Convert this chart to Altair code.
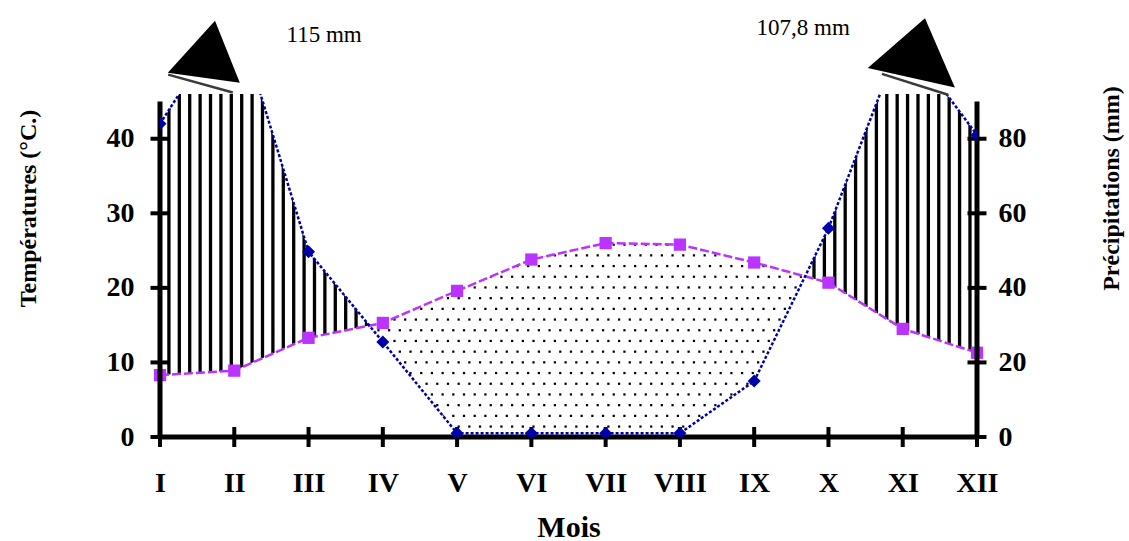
import json

import altair as alt
import numpy as np
import pandas as pd

# Monthly climate normals (Gaussen ombrothermic diagram, P = 2T)
months = ["I", "II", "III", "IV", "V", "VI", "VII", "VIII", "IX", "X", "XI", "XII"]
month_num = [1, 2, 3, 4, 5, 6, 7, 8, 9, 10, 11, 12]
temperature = [8.3, 8.9, 13.3, 15.3, 19.6, 23.8, 26.0, 25.8, 23.4, 20.7, 14.5, 11.3]
precipitation = [84.0, 115.0, 49.7, 25.5, 1.0, 1.0, 1.0, 1.0, 15.0, 56.0, 107.8, 81.0]

# off-scale monthly totals
peak_text = ["115 mm", "107,8 mm"]

temp_ticks = [0, 10, 20, 30, 40]
precip_ticks = [0, 20, 40, 60, 80]

# ---- layout / style --------------------------------------------------------
W, H = 817, 343
T_MAX = 46                     # top of the temperature scale (precip = 2x)
AXIS_TOP = 45
MAGENTA = "#BB33FF"
BLUE = "#0000AA"
SERIF = "Liberation Serif"

# annotation placement (month units / degC units)
peak_pos = pd.DataFrame({"x": [3.21, 9.66], "y": [53.0, 53.9], "text": peak_text})
arrow_heads = pd.DataFrame({
    "x": [1.59, 11.11],
    "y": [51.8, 51.6],
    "shape": ["M0.31,-0.83L-1,0.61L1,0.89Z", "M0.32,-0.77L-0.98,0.36L1,0.8Z"],
    "size": [5184, 7744],
})
arrow_bases = pd.DataFrame({
    "x": [1.11, 10.72], "x2": [1.98, 11.61],
    "y": [48.6, 48.7], "y2": [46.2, 45.9],
})

# ---- humid / dry regions between T and P/2 ----------------------------------
half_p = [p / 2 for p in precipitation]
rx, lo, hi, crossings = [], [], [], []
for i in range(12):
    rx.append(month_num[i])
    lo.append(min(temperature[i], half_p[i]))
    hi.append(max(temperature[i], half_p[i]))
    if i < 11:
        d0 = half_p[i] - temperature[i]
        d1 = half_p[i + 1] - temperature[i + 1]
        if d0 * d1 < 0:
            f = d0 / (d0 - d1)
            xc = month_num[i] + f
            yc = temperature[i] + f * (temperature[i + 1] - temperature[i])
            crossings.append(xc)
            rx.append(xc)
            lo.append(yc)
            hi.append(yc)
region = pd.DataFrame({"x": rx, "lo": lo, "hi": hi})

# humid spans (P > 2T) get vertical hatching, the dry span gets dots
bounds = [1] + crossings + [12]
humid_first = half_p[0] > temperature[0]
spans = [(bounds[k], bounds[k + 1], (k % 2 == 0) == humid_first) for k in range(len(bounds) - 1)]

hatch_step = 0.14
hatch_x = []
for a, b, humid in spans:
    if humid:
        hatch_x.extend(np.arange(a + 0.12, b, hatch_step).tolist())
hatch = pd.DataFrame({"x": hatch_x})

dot_dx, dot_dy = 0.144, 1.435
dot_pts = []
for a, b, humid in spans:
    if not humid:
        for j, yy in enumerate(np.arange(1.4, T_MAX, dot_dy)):
            shift = 0.0 if j % 2 == 0 else dot_dx / 2
            for xx in np.arange(a + 0.05 + shift, b, dot_dx):
                dot_pts.append((xx, yy))
dots = pd.DataFrame(dot_pts, columns=["x", "y"])

# ---- scales / axes -------------------------------------------------------------
xs = alt.Scale(domain=[1, 12], nice=False, zero=False)
ys = alt.Scale(domain=[0, T_MAX], nice=False, zero=False)
ps = alt.Scale(domain=[0, 2 * T_MAX], nice=False, zero=False)

x_axis = alt.Axis(
    values=month_num, labelExpr=f"{json.dumps(months)}[datum.value - 1]",
    domain=False, ticks=False, grid=False, labelFlush=False,
    labelFont=SERIF, labelFontSize=28, labelFontWeight="bold", labelColor="black",
    labelPadding=32, title="Mois", titleFont=SERIF, titleFontSize=30,
    titleFontWeight="bold", titleColor="black", titleY=99, titleBaseline="alphabetic",
)
y_axis = alt.Axis(
    orient="left", values=temp_ticks, domain=False, ticks=False, grid=False, labelFlush=False,
    labelFont=SERIF, labelFontSize=28, labelFontWeight="bold", labelColor="black",
    labelPadding=26, title="Températures (°C.)", titleFont=SERIF, titleFontSize=24,
    titleFontWeight="bold", titleColor="black", titleAngle=270, titleX=-132, titleY=114,
    titleAlign="center", titleBaseline="middle",
)
p_axis = alt.Axis(
    orient="right", values=precip_ticks, domain=False, ticks=False, grid=False,
    labelFlush=False, labelFont=SERIF, labelFontSize=28, labelFontWeight="bold",
    labelColor="black", labelPadding=21, title="Précipitations (mm)", titleFont=SERIF,
    titleFontSize=24, titleFontWeight="bold", titleColor="black", titleAngle=270,
    titleX=134, titleY=94, titleAlign="center", titleBaseline="middle",
)


def X(field="x"):
    # every layer carries the same month axis so the shared axis merges cleanly
    return alt.X(f"{field}:Q", scale=xs, axis=x_axis)


def Y(field="y"):
    return alt.Y(f"{field}:Q", scale=ys, axis=None)


# dotted texture for the dry period
dot_layer = alt.Chart(dots).mark_square(size=5, color="black", opacity=1, clip=True).encode(
    x=X(), y=alt.Y("y:Q", scale=ys, axis=y_axis)
)
# vertical hatching for the humid periods
hatch_layer = alt.Chart(hatch).mark_rule(color="black", strokeWidth=3.3, clip=True).encode(
    x=X(), y=alt.YDatum(0, scale=ys, axis=None), y2=alt.datum(T_MAX)
)
# blank out everything outside the band between T and P/2
cover_top = alt.Chart(region).mark_area(color="white", opacity=1, clip=True).encode(
    x=X(), y=Y("hi"), y2=alt.datum(T_MAX)
)
cover_bottom = alt.Chart(region).mark_area(color="white", opacity=1, clip=True).encode(
    x=X(), y=Y("lo"), y2=alt.datum(0)
)

# axis lines and crossing ticks
frame = pd.DataFrame({"x": [1, 12, 1], "x2": [1, 12, 12], "y": [0, 0, 0], "y2": [AXIS_TOP, AXIS_TOP, 0]})
frame_layer = alt.Chart(frame).mark_rule(color="black", strokeWidth=5).encode(
    x=X(), x2="x2:Q", y=Y(), y2="y2:Q"
)
ytick_df = pd.DataFrame([(xv, t) for xv in (1, 12) for t in temp_ticks], columns=["x", "y"])
ytick_layer = alt.Chart(ytick_df).mark_tick(
    orient="horizontal", color="black", thickness=4, size=19, opacity=1
).encode(x=X(), y=Y())
xtick_df = pd.DataFrame({"x": month_num, "y": [0] * 12})
xtick_layer = alt.Chart(xtick_df).mark_tick(
    orient="vertical", color="black", thickness=4, size=20, opacity=1
).encode(x=X(), y=Y())

# temperature curve
temp_df = pd.DataFrame({"x": month_num, "t": temperature})
temp_line = alt.Chart(temp_df).mark_line(color=MAGENTA, strokeWidth=2.5, strokeDash=[9, 3]).encode(
    x=X(), y=Y("t")
)
temp_pts = alt.Chart(temp_df).mark_square(color=MAGENTA, size=150, opacity=1).encode(
    x=X(), y=Y("t")
)

# precipitation curve on the right-hand scale
prec_df = pd.DataFrame({"x": month_num, "p": precipitation})
prec_line = alt.Chart(prec_df).mark_line(color=BLUE, strokeWidth=2.5, strokeDash=[3, 2], clip=True).encode(
    x=X(), y=alt.Y("p:Q", scale=ps, axis=p_axis)
)
prec_pts = alt.Chart(prec_df).mark_point(
    shape="diamond", filled=True, color=BLUE, size=170, opacity=1, clip=True
).encode(x=X(), y=alt.Y("p:Q", scale=ps, axis=None))

# off-scale markers above the plot
head_layer = alt.Chart(arrow_heads).mark_point(
    filled=True, color="black", opacity=1, strokeWidth=0, clip=False
).encode(
    x=X(), y=Y(),
    shape=alt.Shape("shape:N", scale=None),
    size=alt.Size("size:Q", scale=None),
)
base_layer = alt.Chart(arrow_bases).mark_rule(color="#3a3a3a", strokeWidth=2.5, clip=False).encode(
    x=X(), x2="x2:Q", y=Y(), y2="y2:Q"
)
peak_layer = alt.Chart(peak_pos).mark_text(
    font=SERIF, fontSize=23, color="black", align="center", baseline="alphabetic", clip=False
).encode(x=X(), y=Y(), text="text:N")

chart = (
    alt.layer(
        dot_layer, hatch_layer, cover_top, cover_bottom,
        temp_line, temp_pts,
        frame_layer, ytick_layer, xtick_layer,
        prec_line, prec_pts,
        base_layer, head_layer, peak_layer,
    )
    .resolve_scale(y="independent")
    .properties(
        width=W, height=H,
        autosize=alt.AutoSizeParams(type="none"),
        padding={"left": 160, "top": 94, "right": 152, "bottom": 104},
        background="white",
    )
    .configure_view(stroke=None)
)

chart.save("out.html", embed_options={"renderer": "svg", "actions": False})
